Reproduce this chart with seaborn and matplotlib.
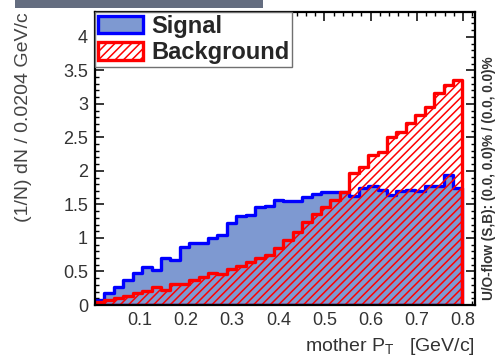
import numpy as np
import pandas as pd
import matplotlib
matplotlib.use("Agg")
import matplotlib.pyplot as plt
import seaborn as sns
from matplotlib.patches import Patch, Rectangle
from matplotlib.ticker import MultipleLocator

# ---- data ----
bin_width = 0.0204
x_start = 0.003
signal = [0.07, 0.18, 0.27, 0.37, 0.48, 0.57, 0.52, 0.70, 0.67, 0.87,
          0.93, 0.92, 1.00, 1.04, 1.22, 1.32, 1.34, 1.46, 1.47, 1.57,
          1.55, 1.55, 1.61, 1.65, 1.69, 1.69, 1.68, 1.63, 1.74, 1.78,
          1.71, 1.64, 1.70, 1.71, 1.70, 1.78, 1.78, 1.94, 1.75]
background = [0.04, 0.07, 0.10, 0.13, 0.18, 0.21, 0.27, 0.23, 0.31, 0.32,
              0.37, 0.42, 0.47, 0.46, 0.53, 0.58, 0.64, 0.70, 0.74, 0.85,
              0.97, 1.09, 1.24, 1.36, 1.46, 1.57, 1.68, 1.97, 2.06, 2.24,
              2.28, 2.51, 2.58, 2.71, 2.84, 2.96, 3.16, 3.28, 3.36]
x_ticks = [0.1, 0.2, 0.3, 0.4, 0.5, 0.6, 0.7, 0.8]
x_tick_labels = ["0.1", "0.2", "0.3", "0.4", "0.5", "0.6", "0.7", "0.8"]
y_ticks = [0, 0.5, 1, 1.5, 2, 2.5, 3, 3.5, 4]
y_tick_labels = ["0", "0.5", "1", "1.5", "2", "2.5", "3", "3.5", "4"]
series_labels = ["Signal", "Background"]

sns.set_style("ticks")
plt.rcParams["font.family"] = ["Liberation Sans", "DejaVu Sans"]
plt.rcParams["mathtext.default"] = "regular"
plt.rcParams["hatch.linewidth"] = 1.1

n = len(signal)
edges = [float(v) for v in (x_start + bin_width * np.arange(n + 1))]
centers = [0.5 * (edges[i] + edges[i + 1]) for i in range(n)]
df = pd.DataFrame({"x": centers, "sig": signal, "bkg": background})

fig = plt.figure(figsize=(4.97, 3.59), dpi=100)
ax = fig.add_axes([95 / 497, 1 - 305 / 359, 380 / 497, 293 / 359])

sns.histplot(data=df, x="x", weights="sig", bins=edges, element="step",
             fill=True, color="#0000ff", facecolor="#7e99d1",
             edgecolor="#0000ff", linewidth=2.4, ax=ax)
sns.histplot(data=df, x="x", weights="bkg", bins=edges, element="step",
             fill=True, color="#ff0000", facecolor=(1, 1, 1, 0),
             edgecolor="#ff0000", linewidth=2.4, hatch="////", ax=ax)

ax.set_xlim(x_start, 0.826)
ax.set_ylim(0, 4.37)
ax.set_xticks(x_ticks)
ax.set_xticklabels(x_tick_labels)
ax.set_yticks(y_ticks)
ax.set_yticklabels(y_tick_labels)
ax.xaxis.set_minor_locator(MultipleLocator(0.02))
ax.yaxis.set_minor_locator(MultipleLocator(0.1))
ax.tick_params(which="both", direction="in", top=True, right=True,
               color="black", labelcolor="#333333", labelsize=13)
ax.tick_params(which="major", length=6.5, width=1.1, pad=5)
ax.tick_params(which="minor", length=3.2, width=1.0)
for s in ax.spines.values():
    s.set_linewidth(1.6)
    s.set_color("black")

ax.set_ylabel("(1/N) dN / 0.0204 GeV/c", fontsize=14, color="#444444", loc="top")
ax.yaxis.set_label_coords(-0.165, 1.0)
ax.set_xlabel("mother P$_{T}$   [GeV/c]", fontsize=14, color="#333333", loc="right")
ax.xaxis.set_label_coords(1.0, -0.105)

handles = [
    Patch(facecolor="#7e99d1", edgecolor="#0000ff", linewidth=2.4, label=series_labels[0]),
    Patch(facecolor="white", edgecolor="#ff0000", hatch="////", linewidth=2.4, label=series_labels[1]),
]
leg = ax.legend(handles=handles, loc="upper left", bbox_to_anchor=(0, 1),
                borderaxespad=0, prop={"weight": "bold", "size": 17},
                handlelength=1.9, handleheight=0.75, handletextpad=0.35,
                labelspacing=0.15, borderpad=0.12, fancybox=False,
                framealpha=1, edgecolor="#707070")
leg.get_frame().set_linewidth(1.0)

fig.text(0.984, 0.505, "U/O-flow (S,B): (0.0, 0.0)% / (0.0, 0.0)%",
         rotation=90, ha="center", va="center", fontsize=9.8,
         weight="bold", color="#333333")

fig.add_artist(Rectangle((15 / 497, 1 - 8 / 359), 248 / 497, 8 / 359,
                         transform=fig.transFigure, facecolor="#646d80",
                         edgecolor="none"))

fig.savefig("out.png", dpi=100)
